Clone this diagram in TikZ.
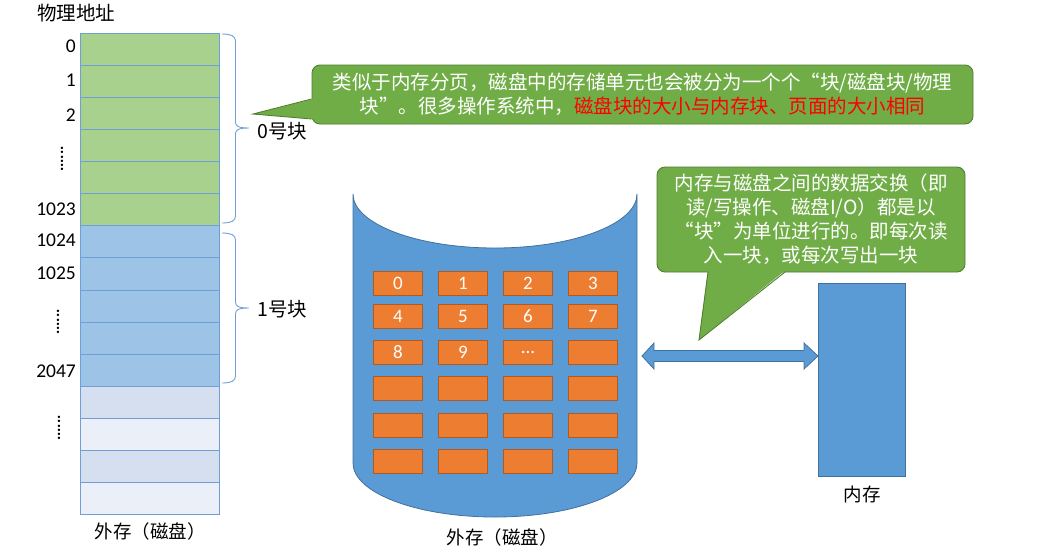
\documentclass[tikz,border=0pt]{standalone}
\usepackage{fontspec}
\setmainfont{Carlito}
\newfontfamily\cjk{Noto Sans CJK SC}
\usetikzlibrary{positioning, calc}
\definecolor{cellgreen}{RGB}{169, 209, 142}
\definecolor{cellblue}{RGB}{157, 195, 230}
\definecolor{cellpale}{RGB}{214, 223, 239}
\definecolor{cellpaler}{RGB}{234, 239, 248}
\definecolor{cellline}{RGB}{110, 160, 215}
\definecolor{diskblue}{RGB}{91, 155, 213}
\definecolor{diskline}{RGB}{65, 113, 156}
\definecolor{blockorange}{RGB}{237, 125, 49}
\definecolor{blockline}{RGB}{174, 90, 33}
\definecolor{notegreen}{RGB}{112, 173, 71}
\definecolor{noteline}{RGB}{80, 126, 50}

% right brace: x, top, tip, bottom
\newcommand\sidebrace[4]{%
  \draw[cellline, line width=0.9pt]
    (#1,#2) .. controls (#1+9,#2) and (#1+13.5,#2+2) .. (#1+13.5,#2+7)
    -- (#1+13.5,#3-6) .. controls (#1+13.5,#3-2) and (#1+16,#3) .. (#1+27,#3)
    .. controls (#1+16,#3) and (#1+13.5,#3+2) .. (#1+13.5,#3+6)
    -- (#1+13.5,#4-7) .. controls (#1+13.5,#4-2) and (#1+9,#4) .. (#1,#4);
}

\begin{document}
\begin{tikzpicture}[x=1pt, y=-1pt,
    cell/.style={draw=cellline, line width=1pt, minimum width=139pt,
                 minimum height=32.07pt, inner sep=0pt, anchor=north west},
    addr/.style={anchor=east, inner sep=0pt, font=\fontsize{19.5}{20}\selectfont},
    vdots/.style={rotate=90, inner sep=0pt, font=\fontsize{16}{16}\selectfont\bfseries},
    cntext/.style={inner sep=0pt, font=\cjk\fontsize{19.5}{24}\selectfont},
    cnsmall/.style={inner sep=0pt, font=\cjk\fontsize{18.5}{22}\selectfont},
    blk/.style={draw=blockline, fill=blockorange, line width=0.9pt, minimum width=49pt,
                minimum height=24pt, inner sep=0pt, anchor=north west, text=white,
                font=\fontsize{19}{20}\selectfont},
    note/.style={rounded corners=8pt, fill=notegreen, draw=noteline, line width=0.9pt,
                 text=white, align=center, inner sep=0pt,
                 font=\cjk\fontsize{19.5}{24}\selectfont}]
    \useasboundingbox (0,0) rectangle (1057,550);

    % Address column
    \node[cntext] (title) at (76,13) {物理地址};
    \foreach \i/\c in {0/cellgreen, 1/cellgreen, 2/cellgreen, 3/cellgreen, 4/cellgreen,
                       5/cellgreen, 6/cellblue, 7/cellblue, 8/cellblue, 9/cellblue,
                       10/cellblue, 11/cellpale, 12/cellpaler, 13/cellpale, 14/cellpaler}
        \node[cell, fill=\c] (cell\i) at (80, {33+32.07*\i}) {};
    \foreach \a/\y in {0/46, 1/80, 2/115, 1023/209, 1024/240, 1025/273, 2047/371}
        \node[addr] (addr\a) at (76,\y) {\a};
    \node[vdots] (dots1) at (62,159) {......};
    \node[vdots] (dots2) at (58,322) {......};
    \node[vdots] (dots3) at (59,428) {......};
    \node[cnsmall] (extlabel) at (150,531) {外存（磁盘）};

    % Braces
    \sidebrace{222}{34}{128}{223}
    \coordinate (tip0) at (249,128);
    \node[cntext, right=8pt of tip0, yshift=-3pt] (blk0label) {0号块};
    \sidebrace{222}{233}{308}{383}
    \coordinate (tip1) at (249,308);
    \node[cntext, right=8pt of tip1, yshift=-1pt] (blk1label) {1号块};

    % Disk
    \draw[diskline, fill=diskblue, line width=0.8pt] (353,194) -- (353,463)
        arc[start angle=180, end angle=0, x radius=142, y radius=54] -- (637,194)
        arc[start angle=0, end angle=180, x radius=142, y radius=54] -- cycle;
    \foreach \r/\ry in {0/271, 1/304, 2/340, 3/376, 4/413, 5/449}
        \foreach \c in {0,...,3} {
            \pgfmathtruncatemacro\n{4*\r+\c}
            \node[blk] (blk\n) at ({373+65*\c},\ry)
                {\ifnum\n=10 ...\else\ifnum\n<10 \n\fi\fi};
        }
    \node[cnsmall] (disklabel) at (502,537) {外存（磁盘）};

    % Memory
    \node[draw=diskline, fill=diskblue, line width=0.8pt, minimum width=87pt,
          minimum height=193pt, anchor=north west] (mem) at (818,283) {};
    \node[cnsmall] (memlabel) at (862,494) {内存};

    % Transfer arrow
    \coordinate (xferL) at (642,356);
    \coordinate (xferR) at (mem.west |- xferL);
    \draw[diskline, fill=diskblue, line width=0.8pt] (xferL) -- ++(12,-13) -- ++(0,7.5)
        -- ($(xferR)+(-14,-5.5)$) -- ++(0,-7.5) -- (xferR) -- ++(-14,13) -- ++(0,-7.5)
        -- ($(xferL)+(12,5.5)$) -- ++(0,7.5) -- cycle;

    % Note on block size
    \node[note, minimum width=661pt, minimum height=59pt] (note1) at (642.5,94.5)
        {类似于内存分页，磁盘中的存储单元也会被分为一个个“块/磁盘块/物理\\
         块”。很多操作系统中，\textcolor{red}{磁盘块的大小与内存块、页面的大小相同}};
    \coordinate (point1) at (253,114);
    \fill[notegreen] ($(note1.west)+(1.5,4.5)$) -- (point1) -- ($(note1.west)+(1.5,24.5)$) -- cycle;
    \draw[noteline, line width=0.9pt] ($(note1.west)+(0,4.5)$) -- (point1)
        -- ($(note1.west)+(0,24.5)$);

    % Note on transfer
    \node[note, minimum width=308pt, minimum height=105pt] (note2) at (811,219.5)
        {内存与磁盘之间的数据交换（即\\读/写操作、磁盘I/O）都是以\\
         “块”为单位进行的。即每次读\\入一块，或每次写出一块};
    \coordinate (point2) at (699,340);
    \fill[notegreen] (708,270.5) -- (point2) -- (785,270.5) -- cycle;
    \draw[noteline, line width=0.9pt] (708,272) -- (point2) -- (785,272);
\end{tikzpicture}
\end{document}
